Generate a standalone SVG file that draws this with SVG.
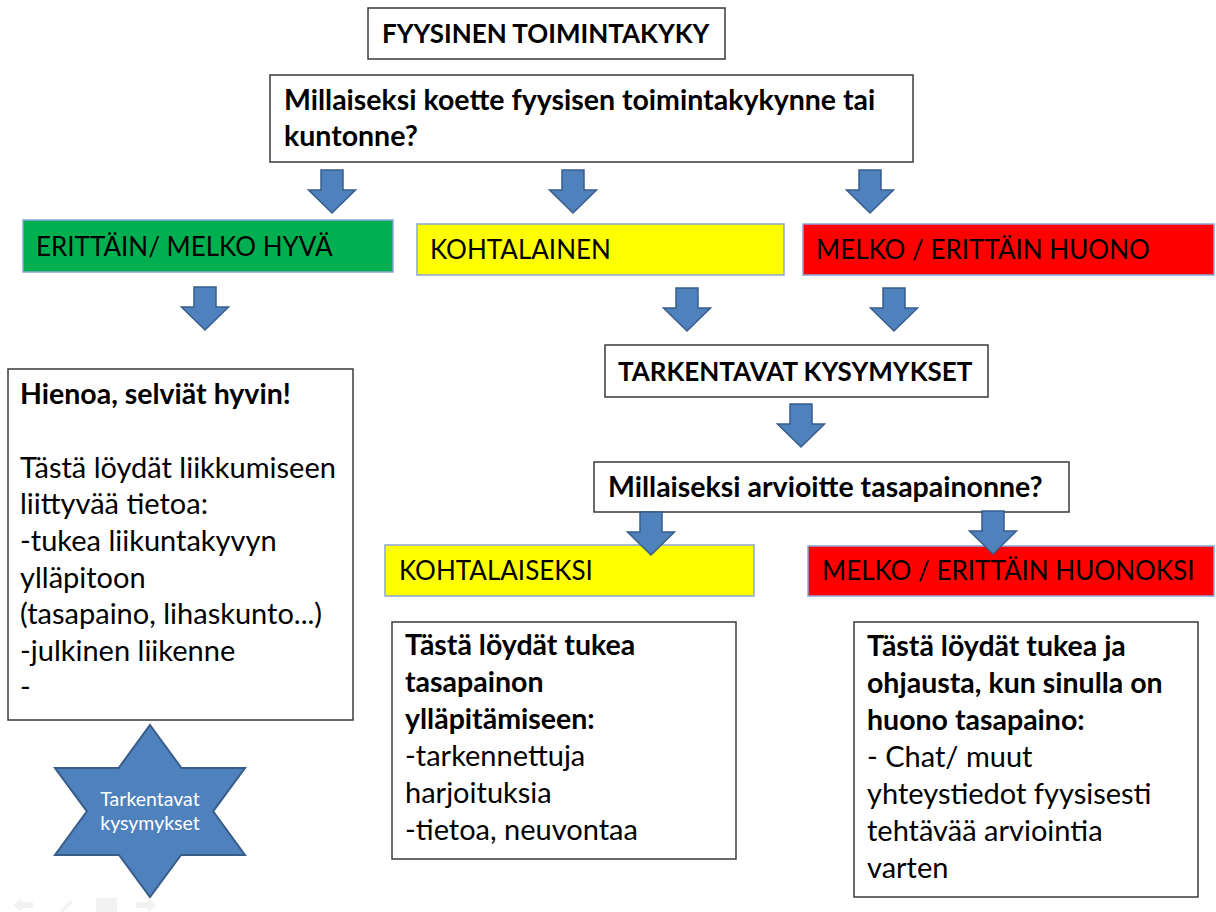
<svg xmlns="http://www.w3.org/2000/svg" width="1216" height="912" viewBox="0 0 1216 912">
<style>
  .box{fill:#ffffff;stroke:#3a3a3a;stroke-width:1.5}
  .green{fill:#00B050;stroke:#8aa6d6;stroke-width:1.5}
  .yellow{fill:#FFFF00;stroke:#8aa6d6;stroke-width:1.5}
  .red{fill:#FF0000;stroke:#8aa6d6;stroke-width:1.5}
  text{font-family:Lato,"Liberation Sans",sans-serif;fill:#000}
  .h{font-weight:bold;font-size:26px}
  .b{font-weight:bold;font-size:28.5px}
  .lbl{font-size:26px}
  .t{font-size:29px}
  .tb{font-size:28.5px;font-weight:bold}
  .arrow{fill:#4F81BD;stroke:#385D8A;stroke-width:1.5;stroke-linejoin:miter}
  .star{fill:#4F81BD;stroke:#385D8A;stroke-width:2}
  .startxt{font-size:19.5px;fill:#ffffff}
  .nav{fill:#f2f2f2}
</style>
<defs>
  <path id="dn" d="M-11,0 H11 V20 H23.5 L0,43 L-23.5,20 H-11 Z"/>
</defs>

<g id="title">
  <rect class="box" x="368" y="8" width="357" height="51"/>
  <text class="h" x="382" y="43">FYYSINEN TOIMINTAKYKY</text>
</g>
<g id="question1">
  <rect class="box" x="270" y="75" width="643" height="87"/>
  <text class="b" x="284" y="110">Millaiseksi koette fyysisen toimintakykynne tai</text>
  <text class="b" x="284" y="146">kuntonne?</text>
</g>
<g id="good">
  <rect class="green" x="23" y="220" width="370" height="52"/>
  <text class="lbl" x="36" y="256">ERITTÄIN/ MELKO HYVÄ</text>
</g>
<g id="moderate">
  <rect class="yellow" x="417" y="224" width="367" height="51"/>
  <text class="lbl" x="430" y="259">KOHTALAINEN</text>
</g>
<g id="poor">
  <rect class="red" x="803" y="224" width="411" height="51"/>
  <text class="lbl" x="816" y="259">MELKO / ERITTÄIN HUONO</text>
</g>
<g id="goodinfo">
  <rect class="box" x="8" y="369" width="345" height="351"/>
  <text class="tb" x="20" y="404">Hienoa, selviät hyvin!</text>
  <text class="t" x="20" y="478">Tästä löydät liikkumiseen</text>
  <text class="t" x="20" y="514">liittyvää tietoa:</text>
  <text class="t" x="20" y="551">-tukea liikuntakyvyn</text>
  <text class="t" x="20" y="588">ylläpitoon</text>
  <text class="t" x="20" y="624">(tasapaino, lihaskunto...)</text>
  <text class="t" x="20" y="661">-julkinen liikenne</text>
  <text class="t" x="20" y="697">-</text>
</g>
<g id="star">
  <polygon class="star" points="150,725 181.4,768 245,768 213.1,811.3 245,855 181,855 150,897 119,855 55,855 86.9,811.3 55,768 118.6,768"/>
  <text class="startxt" x="150" y="806" text-anchor="middle">Tarkentavat</text>
  <text class="startxt" x="150" y="830" text-anchor="middle">kysymykset</text>
</g>
<g id="refine">
  <rect class="box" x="605" y="345" width="383" height="52"/>
  <text class="h" x="618" y="381">TARKENTAVAT KYSYMYKSET</text>
</g>
<g id="question2">
  <rect class="box" x="594" y="462" width="475" height="50"/>
  <text class="b" x="608" y="497">Millaiseksi arvioitte tasapainonne?</text>
</g>
<g id="moderate2">
  <rect class="yellow" x="385" y="545" width="369" height="51"/>
  <text class="lbl" x="399" y="580">KOHTALAISEKSI</text>
</g>
<g id="poor2">
  <rect class="red" x="808" y="546" width="406" height="50"/>
  <text class="lbl" x="822" y="580">MELKO / ERITTÄIN HUONOKSI</text>
</g>
<g id="moderateinfo">
  <rect class="box" x="392" y="622" width="344" height="237"/>
  <text class="tb" x="405" y="655">Tästä löydät tukea</text>
  <text class="tb" x="405" y="692">tasapainon</text>
  <text class="tb" x="405" y="729">ylläpitämiseen:</text>
  <text class="t" x="405" y="766">-tarkennettuja</text>
  <text class="t" x="405" y="803">harjoituksia</text>
  <text class="t" x="405" y="840">-tietoa, neuvontaa</text>
</g>
<g id="poorinfo">
  <rect class="box" x="854" y="622" width="344" height="275"/>
  <text class="tb" x="867" y="656">Tästä löydät tukea ja</text>
  <text class="tb" x="867" y="693">ohjausta, kun sinulla on</text>
  <text class="tb" x="867" y="730">huono tasapaino:</text>
  <text class="t" x="867" y="767">- Chat/ muut</text>
  <text class="t" x="867" y="804">yhteystiedot fyysisesti</text>
  <text class="t" x="867" y="841">tehtävää arviointia</text>
  <text class="t" x="867" y="878">varten</text>
</g>

<g id="connectors">
  <use href="#dn" class="arrow" x="332" y="170"/>
  <use href="#dn" class="arrow" x="573" y="170"/>
  <use href="#dn" class="arrow" x="870" y="170"/>
  <use href="#dn" class="arrow" x="205" y="287"/>
  <use href="#dn" class="arrow" x="687" y="288"/>
  <use href="#dn" class="arrow" x="894" y="288"/>
  <use href="#dn" class="arrow" x="801" y="404"/>
  <use href="#dn" class="arrow" x="651" y="512"/>
  <use href="#dn" class="arrow" x="993" y="511"/>
</g>

<g id="nav">
  <path class="nav" d="M13,905 L21,898 V902 H33 V908 H21 V912 Z"/>
  <path class="nav" d="M60,911 L70,900 L73,902 L63,912 Z"/>
  <rect class="nav" x="96" y="898" width="21" height="14"/>
  <path class="nav" d="M156,905 L148,898 V902 H136 V908 H148 V912 Z"/>
</g>
</svg>
